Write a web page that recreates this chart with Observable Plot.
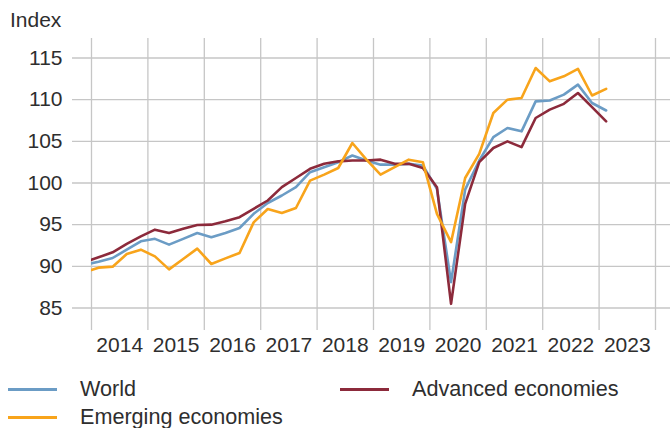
<!DOCTYPE html>
<html><head><meta charset="utf-8">
<script src="https://cdn.jsdelivr.net/npm/d3@7"></script>
<script src="https://cdn.jsdelivr.net/npm/@observablehq/plot@0.6"></script>
<style>
body{margin:0;background:#fff;font-family:"Liberation Sans",Arial,sans-serif;color:#2e2e2e;}
#wrap{width:670px;height:428px;position:relative;overflow:hidden;background:#fff}
#ylabel{height:36px;line-height:40px;font-size:21px;padding-left:10px}
#chart svg{display:block}
.legend{position:relative;height:52px}
.item{position:absolute;display:flex;align-items:center;font-size:21.6px;height:26px;white-space:nowrap}
.sw{width:49px;height:3px;margin-right:23px}
</style></head>
<body><div id="wrap"><div id="ylabel">Index</div><div id="chart"></div><div class="legend" id="legend"></div></div>
<script>
const quarters = ["2013 Q4",
  "2014 Q1","2014 Q2","2014 Q3","2014 Q4",
  "2015 Q1","2015 Q2","2015 Q3","2015 Q4",
  "2016 Q1","2016 Q2","2016 Q3","2016 Q4",
  "2017 Q1","2017 Q2","2017 Q3","2017 Q4",
  "2018 Q1","2018 Q2","2018 Q3","2018 Q4",
  "2019 Q1","2019 Q2","2019 Q3","2019 Q4",
  "2020 Q1","2020 Q2","2020 Q3","2020 Q4",
  "2021 Q1","2021 Q2","2021 Q3","2021 Q4",
  "2022 Q1","2022 Q2","2022 Q3","2022 Q4",
  "2023 Q1"];
const world = [90.16,
  90.56, 91.0, 92.0, 93.0,
  93.3, 92.6, 93.3, 94.0,
  93.5, 94.0, 94.6, 96.3,
  97.6, 98.5, 99.5, 101.3,
  101.9, 102.5, 103.3, 102.7,
  102.2, 102.2, 102.3, 102.1,
  99.3, 88.1, 99.2, 102.7,
  105.5, 106.6, 106.2, 109.8,
  109.9, 110.6, 111.8, 109.6,
  108.7];
const advanced = [90.52,
  91.08, 91.68, 92.7, 93.6,
  94.4, 94.0, 94.5, 94.96,
  95.0, 95.4, 95.9, 96.9,
  97.9, 99.5, 100.6, 101.7,
  102.3, 102.6, 102.7, 102.7,
  102.8, 102.3, 102.3, 101.8,
  99.5, 85.5, 97.5, 102.5,
  104.2, 105.0, 104.3, 107.8,
  108.8, 109.5, 110.8, 109.1,
  107.4];
const emerging = [89.28,
  89.84, 89.96, 91.48, 92.0,
  91.2, 89.64, 90.88, 92.12,
  90.28, 90.96, 91.6, 95.28,
  96.88, 96.4, 97.0, 100.28,
  101.0, 101.8, 104.8, 102.8,
  101.0, 101.9, 102.8, 102.5,
  96.3, 92.9, 100.6, 103.5,
  108.4, 110.0, 110.2, 113.8,
  112.2, 112.8, 113.7, 110.5,
  111.3];
const seriesNames = ["World", "Advanced economies", "Emerging economies"];
const seriesColors = ["#6b9cc5", "#8c2a3b", "#f8a41b"];
const yearLabels = ["2014","2015","2016","2017","2018","2019","2020","2021","2022","2023"];
const gridYears = [2014,2015,2016,2017,2018,2019,2020,2021,2022,2023,2024];
const yTicks = [85, 90, 95, 100, 105, 110, 115];

const toYear = q => { const [y, qq] = q.split(" Q"); return +y + (+qq - 0.5) / 4; };
const seriesValues = [world, advanced, emerging];
const long = [];
seriesNames.forEach((s, k) => quarters.forEach((q, i) => long.push({t: toYear(q), v: seriesValues[k][i], series: s})));

const chart = Plot.plot({
  width: 670, height: 340,
  marginLeft: 91, marginRight: 0, marginTop: 2, marginBottom: 46,
  x: {domain: [2014, 2024.266]},
  y: {domain: [82.3, 117.34]},
  color: {domain: seriesNames, range: seriesColors},
  style: {fontFamily: "'Liberation Sans', Arial, sans-serif", fontSize: "21px", color: "#2e2e2e", background: "white"},
  marks: [
    Plot.ruleX(gridYears, {stroke: "#c6c6c6", strokeWidth: 1.3}),
    Plot.ruleY(yTicks, {stroke: "#c6c6c6", strokeWidth: 1.3, insetLeft: -19}),
    Plot.axisY(yTicks, {tickSize: 0, tickPadding: 29, label: null}),
    Plot.axisX(yearLabels.map(d => +d + 0.5), {tickSize: 0, tickPadding: 7, label: null, tickFormat: d => yearLabels[Math.floor(d) - 2014]}),
    Plot.line(long, {x: "t", y: "v", z: "series", stroke: "series", strokeWidth: 2.6, clip: true})
  ]
});
document.getElementById("chart").appendChild(chart);

const legendPos = [[8, 0], [340, 0], [8, 28]];
const leg = document.getElementById("legend");
seriesNames.forEach((s, k) => {
  const it = document.createElement("div");
  it.className = "item";
  it.style.left = legendPos[k][0] + "px";
  it.style.top = legendPos[k][1] + "px";
  it.innerHTML = `<span class="sw" style="background:${seriesColors[k]}"></span><span>${s}</span>`;
  leg.appendChild(it);
});
</script>
</body></html>
